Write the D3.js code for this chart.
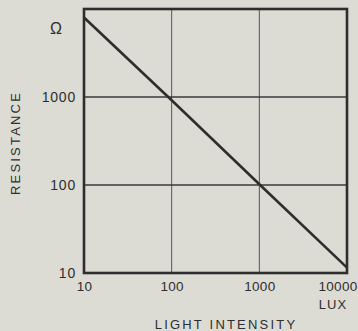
<!DOCTYPE html>
<html>
<head>
<meta charset="utf-8">
<script src="https://cdn.jsdelivr.net/npm/d3@7"></script>
<style>
  html, body { margin: 0; padding: 0; background: #dcdcd5; }
  svg { display: block; font-family: "Liberation Sans", Arial, sans-serif; }
</style>
</head>
<body>
<svg id="chart" width="358" height="331"></svg>
<script>
// Photoresistor characteristic: resistance vs. illuminance (log-log)
const luxValues = [10, 100, 1000, 10000];
const resistanceValues = [8000, 920, 102, 11.5];
const xTicks = [10, 100, 1000, 10000];
const xTickLabels = ["10", "100", "1000", "10000"];
const yTicks = [10, 100, 1000];
const yTickLabels = ["10", "100", "1000"];

const W = 358, H = 331;
const margin = { top: 9, right: 11, bottom: 58, left: 84 };
const iw = W - margin.left - margin.right;
const ih = H - margin.top - margin.bottom;
const ink = "#2e2e2e";

const svg = d3.select("#chart");
svg.append("rect").attr("width", W).attr("height", H).attr("fill", "#dcdcd5");

const g = svg.append("g").attr("transform", `translate(${margin.left},${margin.top})`);

const x = d3.scaleLog().domain([10, 10000]).range([0, iw]);
const y = d3.scaleLog().domain([10, 10000]).range([ih, 0]);

// grid
g.append("g").selectAll("line.v").data(xTicks.slice(1, -1)).join("line")
  .attr("x1", d => x(d)).attr("x2", d => x(d))
  .attr("y1", 0).attr("y2", ih)
  .attr("stroke", "#555").attr("stroke-width", 1);
g.append("g").selectAll("line.h").data(yTicks.slice(1)).join("line")
  .attr("y1", d => y(d)).attr("y2", d => y(d))
  .attr("x1", 0).attr("x2", iw)
  .attr("stroke", "#3a3a3a").attr("stroke-width", 1.6);

// frame
g.append("rect").attr("width", iw).attr("height", ih)
  .attr("fill", "none").attr("stroke", ink).attr("stroke-width", 2.6);

// axes (labels only)
const xAxis = d3.axisBottom(x).tickValues(xTicks)
  .tickFormat((d, i) => xTickLabels[i]).tickSize(0).tickPadding(8);
const gx = g.append("g").attr("transform", `translate(0,${ih})`).call(xAxis);
gx.select(".domain").remove();
gx.selectAll("text").attr("fill", ink).attr("font-size", 13.5).attr("letter-spacing", 0.3)
  .attr("font-family", "Liberation Sans, Arial, sans-serif");
gx.selectAll("text").filter(d => d === 10000).attr("text-anchor", "end").attr("dx", "10");

const yAxis = d3.axisLeft(y).tickValues(yTicks)
  .tickFormat((d, i) => yTickLabels[i]).tickSize(0).tickPadding(8);
const gy = g.append("g").call(yAxis);
gy.select(".domain").remove();
gy.selectAll("text").attr("fill", ink).attr("font-size", 14).attr("letter-spacing", 0.8)
  .attr("font-family", "Liberation Sans, Arial, sans-serif");

// unit labels
svg.append("text").attr("x", 56).attr("y", 34).attr("text-anchor", "middle")
  .attr("font-size", 16).attr("fill", ink).text("Ω");
svg.append("text").attr("x", 333).attr("y", 309).attr("text-anchor", "middle")
  .attr("font-size", 13).attr("fill", ink).attr("letter-spacing", 1).text("LUX");

// axis titles
svg.append("text").attr("x", 226).attr("y", 329).attr("text-anchor", "middle")
  .attr("font-size", 13).attr("fill", ink).attr("letter-spacing", 2.2).text("LIGHT INTENSITY");
svg.append("text").attr("transform", "translate(20,143) rotate(-90)").attr("text-anchor", "middle")
  .attr("font-size", 13).attr("fill", ink).attr("letter-spacing", 2.2).text("RESISTANCE");

// characteristic line
const line = d3.line().x(d => x(d[0])).y(d => y(d[1]));
g.append("path").datum(d3.zip(luxValues, resistanceValues))
  .attr("d", line).attr("fill", "none").attr("stroke", ink).attr("stroke-width", 2.6);
</script>
</body>
</html>
